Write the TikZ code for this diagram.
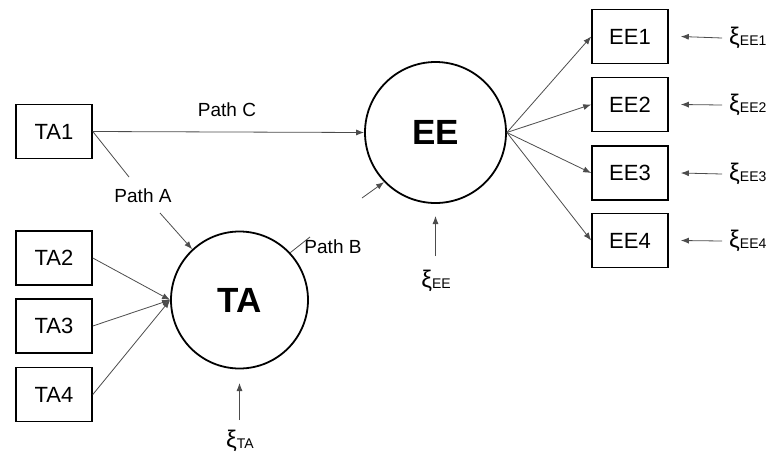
\documentclass[tikz,border=0pt]{standalone}
\usepackage{fontspec}
\setmainfont{Liberation Sans}
\usetikzlibrary{arrows.meta,calc}
\newcommand{\fs}[1]{\fontsize{#1}{#1}\selectfont}
\newcommand{\xilabel}[1]{{\fs{24}ξ}{\fs{14}\raisebox{-1pt}{#1}}}
\tikzset{
  indbox/.style={draw=black, line width=1.6pt, minimum width=76pt, minimum height=54pt, inner sep=0pt, font=\fs{22}},
  latent/.style={draw=black, line width=1.8pt, circle, inner sep=0pt, font=\fs{35}\bfseries},
  conn/.style={draw=black!70, line width=0.8pt},
  arr/.style={conn, -{Latex[length=8pt,width=6pt]}},
  plabel/.style={font=\fs{19}, inner sep=1pt},
  errlabel/.style={inner sep=0pt}
}
\begin{document}
\begin{tikzpicture}[x=1pt,y=-1pt]
\useasboundingbox (0,0) rectangle (776,459);
% indicators of TA
\node[indbox] (ta1) at (54,131.5) {TA1};
\node[indbox] (ta2) at (54,258) {TA2};
\node[indbox] (ta3) at (54,326) {TA3};
\node[indbox] (ta4) at (54,394.5) {TA4};
% latent variables
\node[latent, minimum size=137pt] (ta) at (239.5,300) {TA};
\node[latent, minimum size=141pt] (ee) at (435.5,132.5) {EE};
% indicators of EE
\node[indbox] (ee1) at (630,36.5) {EE1};
\node[indbox] (ee2) at (630,104.5) {EE2};
\node[indbox] (ee3) at (630,173) {EE3};
\node[indbox] (ee4) at (630,240.5) {EE4};
% path labels
\node[plabel] (pa) at (143,196) {Path A};
\node[plabel] (pb) at (333,247) {Path B};
\node[plabel] (pc) at (227,110) {Path C};
% error terms
\node[errlabel] (xta) at (240,441) {\xilabel{TA}};
\node[errlabel] (xee) at (436,281) {\xilabel{EE}};
\node[errlabel, anchor=west] (xe1) at (729,38) {\xilabel{EE1}};
\node[errlabel, anchor=west] (xe2) at (729,105) {\xilabel{EE2}};
\node[errlabel, anchor=west] (xe3) at (729,174) {\xilabel{EE3}};
\node[errlabel, anchor=west] (xe4) at (729,241) {\xilabel{EE4}};
% helper points of the labelled paths
\coordinate (paIn) at (129,177);
\coordinate (paOut) at (160,213);
\coordinate (pbIn) at (310,237);
\coordinate (pbOut) at (362,198);
\coordinate (xtaTop) at (239.5,420);
\coordinate (taBot) at (239.5,383);
\coordinate (xeeTop) at (435.5,256);
\coordinate (eeBot) at (435.5,216);
% Path C
\draw[arr] (ta1.east) -- (ee.west);
% Path A
\draw[conn] (ta1.east) -- (paIn);
\draw[arr] (paOut) -- (ta.133);
% Path B
\draw[conn] (ta.43) -- (pbIn);
\draw[arr] (pbOut) -- (ee.224);
% formative indicators into TA
\foreach \i in {ta2,ta3,ta4} \draw[arr] (\i.east) -- (ta.west);
% reflective indicators of EE
\foreach \i in {ee1,ee2,ee3,ee4} \draw[arr] (ee.east) -- (\i.west);
% error terms
\draw[arr] (xtaTop) -- (taBot);
\draw[arr] (xeeTop) -- (eeBot);
\foreach \k in {1,2,3,4} \draw[arr] ([xshift=-7pt]xe\k.west) -- ([xshift=12pt]ee\k.east);
\end{tikzpicture}
\end{document}
